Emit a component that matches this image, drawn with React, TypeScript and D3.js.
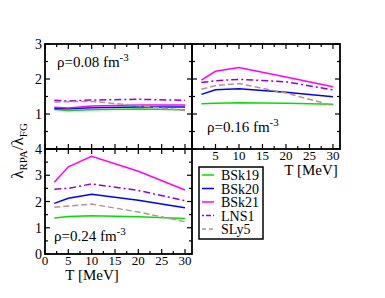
import React, { useEffect, useRef } from 'react'
import * as d3 from 'd3'

// temperatures (MeV) at which lambda ratio is computed
const temps = [2, 5, 10, 20, 30]

const models = ['BSk19', 'BSk20', 'BSk21', 'LNS1', 'SLy5']
const colors = ['#00e000', '#0000ff', '#ff00ff', '#9400d3', '#bc8f8f']
const dashes = ['none', 'none', 'none', '7,3,2,3', '6,3']
const legendDashes = ['none', 'none', 'none', '2,2,5,2', '4,3']

// rho = 0.08 fm^-3
const rho008 = [
  [1.13, 1.1, 1.12, 1.14, 1.12],
  [1.16, 1.15, 1.18, 1.2, 1.2],
  [1.19, 1.17, 1.23, 1.26, 1.26],
  [1.39, 1.37, 1.4, 1.42, 1.39],
  [1.34, 1.35, 1.36, 1.24, 1.1]
]
// rho = 0.16 fm^-3
const rho016 = [
  [1.29, 1.31, 1.32, 1.31, 1.28],
  [1.56, 1.69, 1.72, 1.62, 1.49],
  [1.97, 2.22, 2.33, 2.06, 1.78],
  [1.9, 1.95, 1.99, 1.92, 1.69],
  [1.71, 1.81, 1.87, 1.6, 1.24]
]
// rho = 0.24 fm^-3
const rho024 = [
  [1.37, 1.43, 1.46, 1.42, 1.35],
  [1.93, 2.12, 2.28, 2.05, 1.76],
  [2.73, 3.32, 3.72, 3.15, 2.44],
  [2.47, 2.5, 2.67, 2.42, 2.03],
  [1.78, 1.83, 1.9, 1.6, 1.23]
]

const xTickLabels = [0, 5, 10, 15, 20, 25, 30]

const FONT = 'Times New Roman, Liberation Serif, DejaVu Serif, serif'

function App() {
  const svgRef = useRef<SVGSVGElement>(null)

  useEffect(() => {
    const svg = d3.select(svgRef.current)
    svg.selectAll('*').remove()

    const left = 45, mid = 192, right = 340
    const top = 44, ymid = 149, bottom = 254

    const panels = [
      { data: rho008, x0: left, x1: mid, y0: top, y1: ymid, ymax: 3, label: '0.08', lx: 57, ly: 67, yLabels: [1, 2, 3], xLabels: null as number[] | null },
      { data: rho016, x0: mid, x1: right, y0: top, y1: ymid, ymax: 3, label: '0.16', lx: 207, ly: 132, yLabels: [], xLabels: xTickLabels.slice(1) },
      { data: rho024, x0: left, x1: mid, y0: ymid, y1: bottom, ymax: 4, label: '0.24', lx: 54, ly: 241, yLabels: [0, 1, 2, 3, 4], xLabels: xTickLabels }
    ]

    panels.forEach(p => {
      const xScale = d3.scaleLinear().domain([0, 31.5]).range([p.x0, p.x1])
      const yScale = d3.scaleLinear().domain([0, p.ymax]).range([p.y1, p.y0])
      const g = svg.append('g')

      // data lines
      const line = d3.line<number>()
        .x((d, i) => xScale(temps[i]))
        .y(d => yScale(d))
      p.data.forEach((vals, i) => {
        g.append('path')
          .datum(vals)
          .attr('d', line)
          .attr('fill', 'none')
          .attr('stroke', colors[i])
          .attr('stroke-width', 1.5)
          .attr('stroke-dasharray', dashes[i])
      })

      // inward ticks on all four sides
      const xt = d3.range(0, 31, 2.5)
      xt.forEach(t => {
        const len = t % 5 === 0 ? 5 : 3
        const x = xScale(t)
        g.append('line').attr('x1', x).attr('x2', x).attr('y1', p.y1).attr('y2', p.y1 - len)
        g.append('line').attr('x1', x).attr('x2', x).attr('y1', p.y0).attr('y2', p.y0 + len)
      })
      const yt = d3.range(0, p.ymax + 0.01, 0.5)
      yt.forEach(t => {
        const len = t % 1 === 0 ? 5 : 3
        const y = yScale(t)
        g.append('line').attr('x1', p.x0).attr('x2', p.x0 + len).attr('y1', y).attr('y2', y)
        g.append('line').attr('x1', p.x1).attr('x2', p.x1 - len).attr('y1', y).attr('y2', y)
      })
      g.selectAll('line').attr('stroke', '#000').attr('stroke-width', 1.2)

      g.append('rect')
        .attr('x', p.x0).attr('y', p.y0)
        .attr('width', p.x1 - p.x0).attr('height', p.y1 - p.y0)
        .attr('fill', 'none').attr('stroke', '#000').attr('stroke-width', 1.8)

      // tick labels
      g.selectAll('text.yl').data(p.yLabels).enter().append('text')
        .attr('x', p.x0 - 3).attr('y', d => yScale(d) + 5)
        .attr('text-anchor', 'end').attr('font-size', 14)
        .text(d => d)
      if (p.xLabels) {
        g.selectAll('text.xl').data(p.xLabels).enter().append('text')
          .attr('x', d => xScale(d)).attr('y', p.y1 + 11)
          .attr('text-anchor', 'middle').attr('font-size', 13)
          .text(d => d)
      }

      // density label
      const t = g.append('text').attr('x', p.lx).attr('y', p.ly)
        .attr('font-size', 15)
      t.append('tspan').text('ρ=' + p.label + ' fm')
      t.append('tspan').attr('dy', -6).attr('font-size', 11).text('-3')
    })

    // axis titles
    svg.append('text').attr('x', 92).attr('y', 280).attr('text-anchor', 'middle')
      .attr('font-size', 15).text('T [MeV]')
    svg.append('text').attr('x', 311).attr('y', 175).attr('text-anchor', 'middle')
      .attr('font-size', 15).text('T [MeV]')

    const yl = svg.append('text')
      .attr('transform', 'translate(23,151) rotate(-90)')
      .attr('text-anchor', 'middle').attr('font-size', 17)
    yl.append('tspan').text('λ')
    yl.append('tspan').attr('font-size', 11).attr('dy', 4).text('RPA')
    yl.append('tspan').attr('dy', -4).text('/λ')
    yl.append('tspan').attr('font-size', 11).attr('dy', 4).text('FG')

    // legend
    const lg = svg.append('g')
    lg.append('rect').attr('x', 199).attr('y', 167).attr('width', 64).attr('height', 72)
      .attr('fill', '#fff').attr('stroke', '#000').attr('stroke-width', 1.5)
    models.forEach((m, i) => {
      const y = 175 + i * 13.5
      lg.append('line').attr('x1', 202).attr('x2', 214).attr('y1', y).attr('y2', y)
        .attr('stroke', colors[i]).attr('stroke-width', 1.5).attr('stroke-dasharray', legendDashes[i])
      lg.append('text').attr('x', 221).attr('y', y + 5).attr('font-size', 14).text(m)
    })

    svg.selectAll('text').attr('font-family', FONT)
  }, [])

  return (
    <svg ref={svgRef} width={385} height={298}
      style={{ position: 'absolute', left: 0, top: 0 }} />
  )
}

export default App
